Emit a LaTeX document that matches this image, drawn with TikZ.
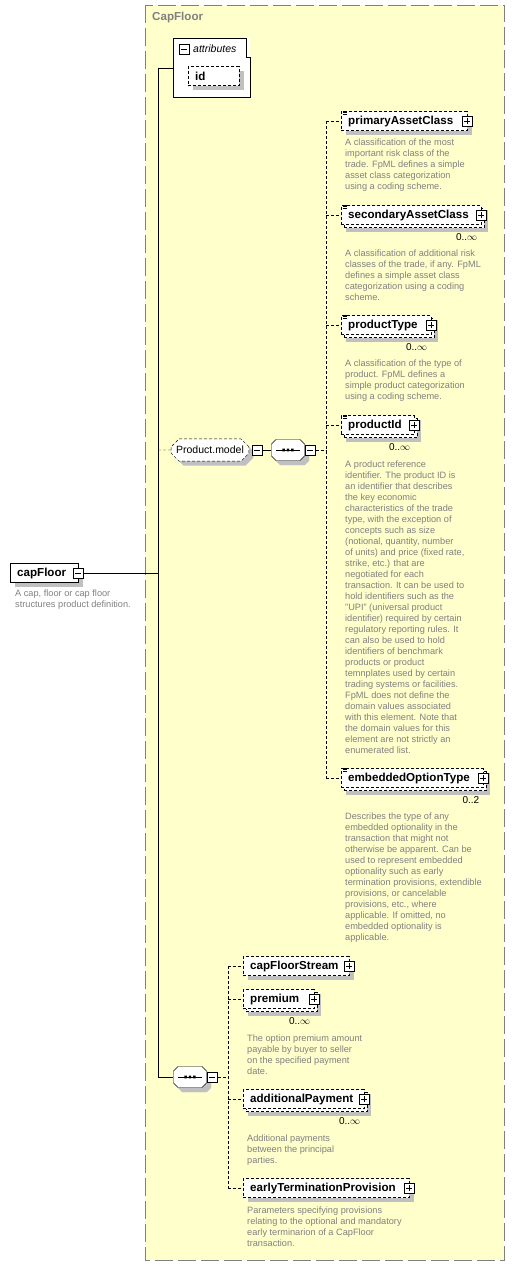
\documentclass[tikz,border=0pt]{standalone}
\usepackage{fontspec}
\setmainfont{Liberation Sans}
\usetikzlibrary{positioning,shapes.misc,calc}

\definecolor{grpfill}{HTML}{FFFFCC}
\definecolor{grpline}{HTML}{808080}
\definecolor{descgray}{HTML}{808080}
\definecolor{shadowgray}{HTML}{C0C0C0}

\pgfdeclarelayer{back}
\pgfdeclarelayer{shade}
\pgfsetlayers{back,shade,main}

\newcommand\namefont{\fontsize{11.6}{13}\selectfont\bfseries}
\newcommand\descfont{\fontsize{9.2}{11}\selectfont}
% octagon inside the node box (for the sequence compositor)
\newcommand\octo[2]{\draw[draw=#1,fill=#2]
  ([shift={(5pt,-.5pt)}]path picture bounding box.north west)
  -- ([shift={(-5pt,-.5pt)}]path picture bounding box.north east)
  -- ([shift={(-.5pt,-5pt)}]path picture bounding box.north east)
  -- ([shift={(-.5pt,5pt)}]path picture bounding box.south east)
  -- ([shift={(-5pt,.5pt)}]path picture bounding box.south east)
  -- ([shift={(5pt,.5pt)}]path picture bounding box.south west)
  -- ([shift={(.5pt,5pt)}]path picture bounding box.south west)
  -- ([shift={(.5pt,-5pt)}]path picture bounding box.north west) -- cycle;}

\begin{document}
\begin{tikzpicture}[
  x=1pt, y=-1pt,
  line width=0.9pt,
  opt/.style={dash pattern=on 3pt off 2pt},
  elem/.style={draw,fill=white,font=\namefont,text width=#1,align=left,
               inner xsep=7pt,inner ysep=0pt,minimum height=19pt,anchor=west},
  multi/.style={preaction={draw=black,fill=white,
                transform canvas={shift={(3pt,-3pt)}}}},
  signbox/.style={draw,fill=white,minimum size=10pt,inner sep=0pt},
  plusbox/.style={signbox,path picture={
      \draw[line width=1pt] ([xshift=2pt]path picture bounding box.west)
        -- ([xshift=-2pt]path picture bounding box.east)
        ([yshift=-2pt]path picture bounding box.north)
        -- ([yshift=2pt]path picture bounding box.south);}},
  minusbox/.style={signbox,path picture={
      \draw[line width=1pt] ([xshift=2pt]path picture bounding box.west)
        -- ([xshift=-2pt]path picture bounding box.east);}},
  grpshape/.style={chamfered rectangle,chamfered rectangle sep=4pt,
                   font=\fontsize{10.5}{12}\selectfont,
                   minimum width=74pt,minimum height=18pt,inner xsep=1pt},
  group/.style={grpshape,draw,fill=white,opt},
  seqbox/.style={rectangle,minimum width=34pt,minimum height=22pt,inner sep=0pt},
  seq/.style={seqbox,path picture={\octo{black}{white}
      \draw[line width=0.8pt] ([xshift=5pt]path picture bounding box.west)
        -- ([xshift=-5pt]path picture bounding box.east);
      \fill ([shift={(-5.6pt,-1.3pt)}]path picture bounding box.center)
              rectangle ++(2.4pt,2.6pt)
            ([shift={(-1.2pt,-1.3pt)}]path picture bounding box.center)
              rectangle ++(2.4pt,2.6pt)
            ([shift={(3.2pt,-1.3pt)}]path picture bounding box.center)
              rectangle ++(2.4pt,2.6pt);}},
  desc/.style={anchor=north west,inner sep=0pt,align=left,font=\descfont,
               text=descgray},
  mult/.style={anchor=north east,inner sep=0pt,font=\fontsize{10}{12}\selectfont},
  docmark/.pic={\draw[line width=0.6pt] (0,0) -- (4,0) (0,1.7) -- (4,1.7)
                (0,3.4) -- (4,3.4);}
]
\useasboundingbox (0,0) rectangle (515,1266);

% group box and the white attributes panel
\begin{pgfonlayer}{back}
\draw[grpline,fill=grpfill,dash pattern=on 18pt off 5pt] (145,5) rectangle (504,1260);
\node[fill=white,minimum width=77pt,minimum height=59pt,anchor=north west,
      inner sep=0pt] (AT) at (173,38) {};
\end{pgfonlayer}
\node[font=\namefont,text=grpline,anchor=west,inner sep=0pt] (title) at (152,18) {CapFloor};

% root element
\node[elem=54] (CF) at (10,573) {capFloor};
\node[minusbox] (CFm) at (CF.east) {};
\node[desc] (CFd) at (15,590) {A cap, floor or cap floor\\structures product definition.};

% attributes
\draw (AT.north west) -- ([xshift=-4pt]AT.north east) -- ++(0,19) -- ++(4,0)
      -- (AT.south east) -- (AT.south west) -- cycle;
\node[minusbox] (ATm) at (184,49) {};
\node[anchor=west,inner sep=0pt,font=\fontsize{10.5}{12}\selectfont\itshape] (ATl)
      at (193,49) {attributes};
\node[elem=37,opt] (ID) at (188,76) {id};

% Product.model group
\node[group] (PM) at (210,450) {Product.model};
\node[minusbox,right=2.5pt of PM] (PMm) {};
\node[seq] (SQ1) at (288,450) {};
\node[minusbox,right=0pt of SQ1] (SQ1m) {};

\node[elem=112,opt]       (PAC) at (341,121) {primaryAssetClass};
\node[elem=126,opt,multi] (SAC) at (341,215) {secondaryAssetClass};
\node[elem=76,opt,multi]  (PT)  at (341,325) {productType};
\node[elem=59,opt,multi]  (PI)  at (341,425) {productId};
\node[elem=128,opt,multi] (EOT) at (341,778) {embeddedOptionType};

\node[plusbox] (PACp) at (PAC.east) {};
\node[plusbox] (SACp) at (SAC.east) {};
\node[plusbox] (PTp)  at (PT.east) {};
\node[plusbox] (PIp)  at (PI.east) {};
\node[plusbox] (EOTp) at (EOT.east) {};

\pic at ([shift={(2,-0.5)}]PAC.north west) {docmark};
\pic at ([shift={(2,-0.5)}]SAC.north west) {docmark};
\pic at ([shift={(2,-0.5)}]PT.north west) {docmark};
\pic at ([shift={(2,-0.5)}]PI.north west) {docmark};
\pic at ([shift={(2,-0.5)}]EOT.north west) {docmark};

\node[mult] (SACn) at ([xshift=-4pt,yshift=-9pt]SAC.south east) {0..$\infty$};
\node[mult] (PTn)  at ([xshift=-4pt,yshift=-9pt]PT.south east) {0..$\infty$};
\node[mult] (PIn)  at ([xshift=-4pt,yshift=-9pt]PI.south east) {0..$\infty$};
\node[mult] (EOTn) at ([xshift=-4pt,yshift=-9pt]EOT.south east) {0..2};

\node[desc] (PACd) at (345,139) {A classification of the most\\important risk class of the\\
  trade. FpML defines a simple\\asset class categorization\\using a coding scheme.};
\node[desc] (SACd) at (345,250) {A classification of additional risk\\
  classes of the trade, if any. FpML\\defines a simple asset class\\
  categorization using a coding\\scheme.};
\node[desc] (PTd) at (345,360) {A classification of the type of\\product. FpML defines a\\
  simple product categorization\\using a coding scheme.};
\node[desc] (PId) at (345,461) {A product reference\\identifier. The product ID is\\
  an identifier that describes\\the key economic\\characteristics of the trade\\
  type, with the exception of\\concepts such as size\\(notional, quantity, number\\
  of units) and price (fixed rate,\\strike, etc.) that are\\negotiated for each\\
  transaction. It can be used to\\hold identifiers such as the\\
  "UPI" (universal product\\identifier) required by certain\\
  regulatory reporting rules. It\\can also be used to hold\\identifiers of benchmark\\
  products or product\\temnplates used by certain\\trading systems or facilities.\\
  FpML does not define the\\domain values associated\\with this element. Note that\\
  the domain values for this\\element are not strictly an\\enumerated list.};
\node[desc] (EOTd) at (345,813) {Describes the type of any\\embedded optionality in the\\
  transaction that might not\\otherwise be apparent. Can be\\used to represent embedded\\
  optionality such as early\\termination provisions, extendible\\
  provisions, or cancelable\\provisions, etc., where\\applicable. If omitted, no\\
  embedded optionality is\\applicable.};

% main sequence
\node[seq] (SQ2) at (190,1077) {};
\node[minusbox,right=0pt of SQ2] (SQ2m) {};

\node[elem=92,opt]        (CFS) at (243,966)  {capFloorStream};
\node[elem=57,opt,multi]  (PR)  at (243,999)  {premium};
\node[elem=107,opt,multi] (AP)  at (243,1099) {additionalPayment};
\node[elem=152,opt]       (ETP) at (243,1188) {earlyTerminationProvision};

\node[plusbox] (CFSp) at (CFS.east) {};
\node[plusbox] (PRp)  at (PR.east) {};
\node[plusbox] (APp)  at (AP.east) {};
\node[plusbox] (ETPp) at (ETP.east) {};

\node[mult] (PRn) at ([xshift=-4pt,yshift=-9pt]PR.south east) {0..$\infty$};
\node[mult] (APn) at ([xshift=-4pt,yshift=-9pt]AP.south east) {0..$\infty$};

\node[desc] (PRd) at (247,1035) {The option premium amount\\payable by buyer to seller\\
  on the specified payment\\date.};
\node[desc] (APd) at (247,1135) {Additional payments\\between the principal\\parties.};
\node[desc] (ETPd) at (247,1207) {Parameters specifying provisions\\
  relating to the optional and mandatory\\early terminarion of a CapFloor\\transaction.};

% shadows
\begin{pgfonlayer}{shade}
\foreach \n in {CF,ID,PAC,CFS,ETP}
  \fill[shadowgray] ($(\n.south west)+(4.5,4.5)$) rectangle ($(\n.north east)+(4.5,4.5)$);
\foreach \n in {SAC,PT,PI,EOT,PR,AP}
  \fill[shadowgray] ($(\n.south west)+(4.5,7)$) rectangle ($(\n.north east)+(7,4.5)$);
\node[grpshape,fill=shadowgray] at ($(PM.center)+(4.5,4.5)$) {\phantom{Product.model}};
\node[seqbox,path picture={\octo{shadowgray}{shadowgray}}] at ($(SQ1.center)+(4.5,4.5)$) {};
\node[seqbox,path picture={\octo{shadowgray}{shadowgray}}] at ($(SQ2.center)+(4.5,4.5)$) {};
\end{pgfonlayer}

% connectors
\coordinate (spine) at (158,572);
\coordinate (rail1) at (326,450);
\coordinate (rail2) at (228,1077);
\draw (CFm) -- (CFm -| spine);
\draw (AT.west -| spine) -- (SQ2 -| spine);
\draw (AT.west -| spine) -- (AT.west);
\draw[opt] (PM -| spine) -- (PM);
\draw (SQ2 -| spine) -- (SQ2);
\draw (PMm) -- (SQ1);
\draw[opt] (SQ1m) -- (SQ1m -| rail1);
\draw[opt] (PAC -| rail1) -- (EOT -| rail1);
\draw[opt] (PAC -| rail1) -- (PAC);
\draw[opt] (SAC -| rail1) -- (SAC);
\draw[opt] (PT -| rail1) -- (PT);
\draw[opt] (PI -| rail1) -- (PI);
\draw[opt] (EOT -| rail1) -- (EOT);
\draw[opt] (SQ2m) -- (SQ2m -| rail2);
\draw[opt] (CFS -| rail2) -- (ETP -| rail2);
\draw[opt] (CFS -| rail2) -- (CFS);
\draw[opt] (PR -| rail2) -- (PR);
\draw[opt] (AP -| rail2) -- (AP);
\draw[opt] (ETP -| rail2) -- (ETP);
\end{tikzpicture}
\end{document}
